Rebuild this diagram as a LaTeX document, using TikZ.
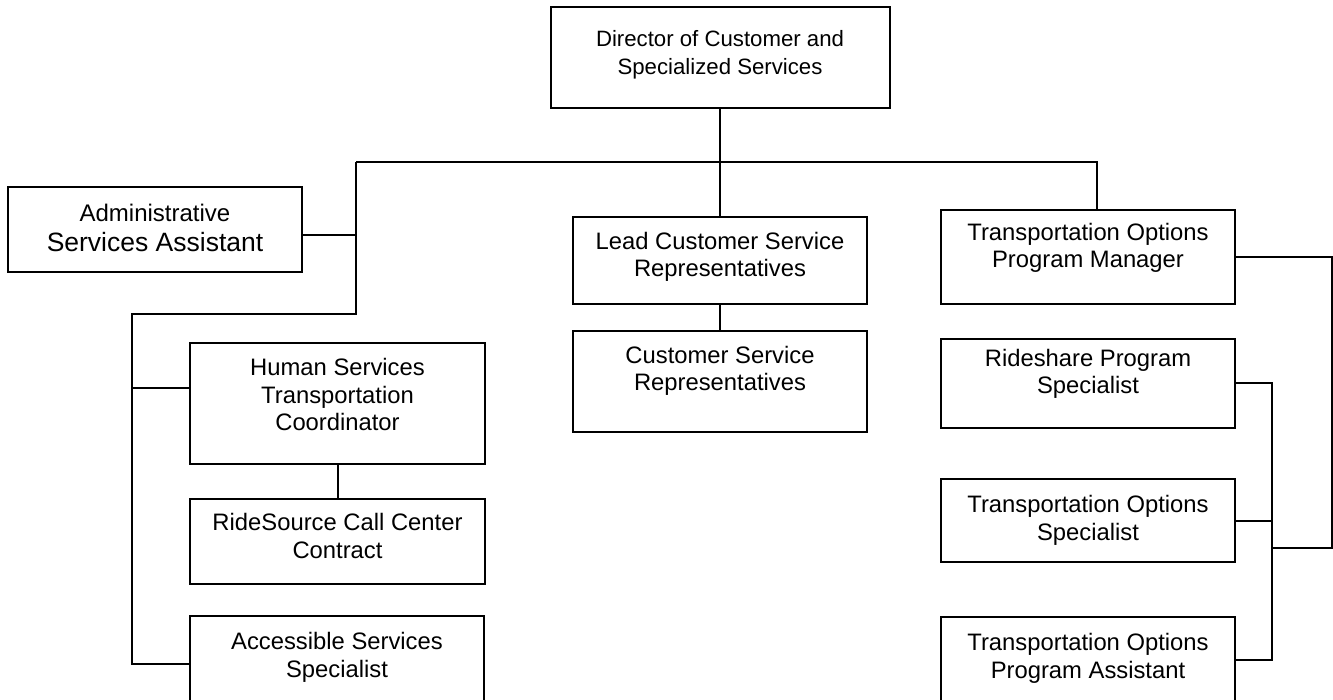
\documentclass[tikz,border=0pt]{standalone}
\usepackage{fontspec}
\setmainfont{Liberation Sans}
\begin{document}
\begin{tikzpicture}
  [x=1pt,y=-1pt,line width=2pt,
   every node/.style={draw,inner sep=0pt,align=center,
     font=\fontsize{23.8}{27.5}\selectfont},
   twoline/.style={text height=41.5pt},
   threeline/.style={text height=69pt}]
  \useasboundingbox (0,0) rectangle (1333,700);
  \clip (0,0) rectangle (1333,700);
  % top and middle column
  \node[twoline,minimum width=339pt,minimum height=101pt,text depth=7.5pt,
    font=\fontsize{22.2}{27.5}\selectfont] (dir) at (720,57.5) {Director of Customer and\\Specialized Services};
  \node[twoline,minimum width=294pt,minimum height=87pt,text depth=8.5pt] (lead) at (720,260.5) {Lead Customer Service\\Representatives};
  \node[twoline,minimum width=294pt,minimum height=101pt,text depth=22.5pt] (csr) at (720,381.5) {Customer Service\\Representatives};
  % left column
  \node[text height=44.5pt,minimum width=294pt,minimum height=85pt,text depth=0pt,
    font=\fontsize{24}{30.5}\selectfont] (admin) at (155,229.5) {Administrative\\{\fontsize{26.5}{30.5}\selectfont Services Assistant}};
  \node[threeline,minimum width=295pt,minimum height=121pt,text depth=15pt] (hum) at (337.5,403.5) {Human Services\\Transportation\\Coordinator};
  \node[twoline,minimum width=295pt,minimum height=85pt,text depth=8.5pt] (rsrc) at (337.5,541.5) {RideSource Call Center\\Contract};
  \node[twoline,minimum width=294pt,minimum height=96pt,text depth=15.5pt] (acc) at (337,664) {Accessible Services\\Specialist};
  % right column
  \node[twoline,minimum width=294pt,minimum height=94pt,text depth=19.5pt] (topm) at (1088,257) {Transportation Options\\Program Manager};
  \node[twoline,minimum width=294pt,minimum height=89pt,text depth=20.5pt] (ride) at (1088,383.5) {Rideshare Program\\Specialist};
  \node[twoline,minimum width=294pt,minimum height=83pt,text depth=2.5pt] (tos) at (1088,520.5) {Transportation Options\\Specialist};
  \node[twoline,minimum width=294pt,minimum height=86pt,text depth=5.5pt] (topa) at (1088,660) {Transportation Options\\Program Assistant};
  % connectors
  \coordinate (bL) at (356,162);
  \coordinate (bR) at (1097,162);
  \coordinate (kL) at (356,314);
  \coordinate (sL) at (132,314);
  \coordinate (jA) at (356,235);
  \coordinate (jH) at (132,388);
  \coordinate (sR) at (1272,383.5);
  \coordinate (eR) at (1332,548);
    \foreach \from/\to in {dir/lead,lead/csr,hum/rsrc}
    \draw (\from) -- (\to);
  \draw (bL) -- (bR) -- (bR |- topm.north);
  \draw (bL) -- (kL) -- (sL) -- (sL |- acc.west) -- (acc.west);
  \draw (jA -| admin.east) -- (jA);
  \draw (jH) -- (jH -| hum.west);
  \draw (topm.east) -| (eR) -- (eR -| sR);
  \draw (ride.east) -- (sR) -- (sR |- topa.east) -- (topa.east);
  \draw (tos.east) -- (tos.east -| sR);
\end{tikzpicture}
\end{document}
